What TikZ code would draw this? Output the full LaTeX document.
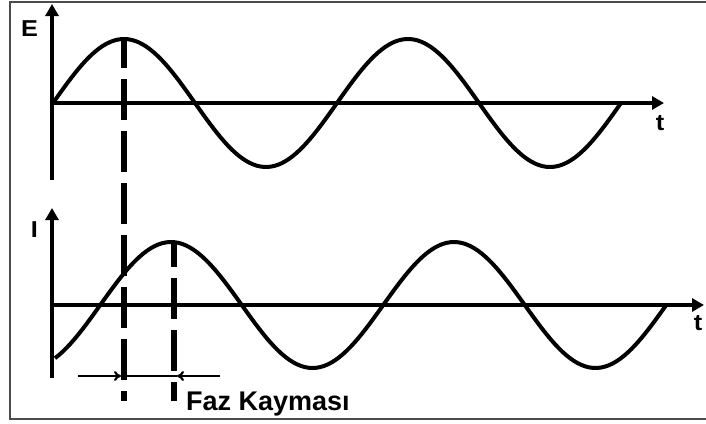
\documentclass[tikz,border=0pt]{standalone}
\usepackage{fontspec}
\setmainfont{Liberation Sans}
\usetikzlibrary{arrows.meta, positioning}

\begin{document}
\begin{tikzpicture}[x=1pt, y=-1pt,
      every node/.style={font=\bfseries, inner sep=0pt},
      axisline/.style={line width=3.5pt, -{Triangle[length=12pt, width=13pt]}},
      wave/.style={line width=4pt, line join=round},
      guide/.style={line width=6.5pt, dash pattern=on 41pt off 11pt, dash phase=12pt},
      shiftarr/.style={line width=2.2pt, -{To[length=7pt, width=10pt]}},
      axlabel/.style={font=\fontsize{23}{23}\bfseries\selectfont, xscale=1.1},
    ]
      \useasboundingbox (0,0) rectangle (706,423);
      % Frame (right side runs off the picture)
      \draw[black!70, line width=2pt] (714,2) -- (10,2) -- (10,419) -- (714,419);
      % Top plot: E
      \coordinate (eo) at (52,180);
      \coordinate (ey) at (52,4);
      \coordinate (ex0) at (52,103);
      \coordinate (ex) at (664,103);
      \draw[axisline] (eo) -- (ey);
      \draw[axisline] (ex0) -- (ex);
      \node[axlabel] (lblE) at (29.5,29) {E};
      \node[axlabel] (tE) at (660,123) {t};
      \draw[wave] plot[domain=53:621, samples=160] (\x, {103 - 64*sin(1.26761*(\x-53))});
      % Bottom plot: I
      \coordinate (io) at (52,378);
      \coordinate (iy) at (52,208);
      \coordinate (ix0) at (52,305);
      \coordinate (ix) at (704,305);
      \draw[axisline] (io) -- (iy);
      \draw[axisline] (ix0) -- (ix);
      \node[axlabel] (lblI) at (34.5,230) {I};
      \node[axlabel] (tI) at (698,323) {t};
      \draw[wave] plot[domain=55:666, samples=160] (\x, {305 - 63*cos(1.27208*(\x-171))});
      % Peak guides
      \coordinate (pE) at (124,39);
      \coordinate (pEb) at (124,401);
      \coordinate (pI) at (174,241);
      \coordinate (pIb) at (174,401);
      \draw[guide] (pE) -- (pEb);
      \draw[guide, dash phase=15pt] (pI) -- (pIb);
      % Shift arrows
      \coordinate (sL) at (78,376);
      \coordinate (sLe) at (121,376);
      \coordinate (sR) at (220,376);
      \coordinate (sRe) at (177,376);
      \draw[line width=2.2pt] (sLe) -- (sRe);
      \draw[shiftarr] (sL) -- (sLe);
      \draw[shiftarr] (sR) -- (sRe);
      \node[anchor=base west, font=\fontsize{27}{27}\bfseries\selectfont] (faz) at (186,410) {Faz Kayması};
    \end{tikzpicture}
\end{document}
